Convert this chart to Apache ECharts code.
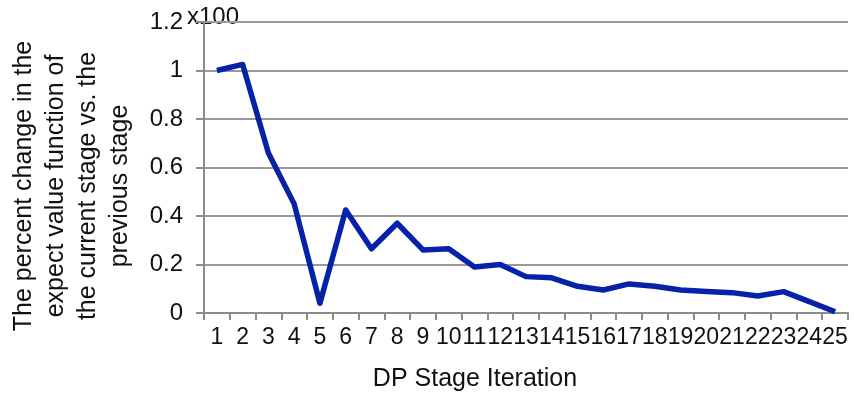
<!DOCTYPE html>
<html>
<head>
<meta charset="utf-8">
<script src="https://cdn.jsdelivr.net/npm/echarts@6/dist/echarts.min.js"></script>
<style>
  html, body { margin: 0; padding: 0; background: #fff; }
  #chart { width: 854px; height: 394px; }
</style>
</head>
<body>
<div id="chart"></div>
<script>
// DP stage iterations 1..25
const stages = ['1','2','3','4','5','6','7','8','9','10','11','12','13','14','15','16','17','18','19','20','21','22','23','24','25'];
// Percent change of the expected value function (in units of x100)
const percentChange = [1.0, 1.025, 0.66, 0.45, 0.04, 0.425, 0.265, 0.37, 0.26, 0.265, 0.19, 0.2, 0.15, 0.145, 0.11, 0.095, 0.12, 0.11, 0.095, 0.089, 0.084, 0.07, 0.088, 0.047, 0.005];
// Value axis ticks
const yTicks = { min: 0, max: 1.2, interval: 0.2 };

const yTitle = 'The percent change in the\nexpect value function of\nthe current stage vs. the\nprevious stage';
const xTitle = 'DP Stage Iteration';
const scaleNote = 'x100';

const font = '"Liberation Sans", Arial, sans-serif';
const chart = echarts.init(document.getElementById('chart'), null, { renderer: 'canvas' });

chart.setOption({
  animation: false,
  backgroundColor: '#ffffff',
  grid: { left: 204, right: 6, top: 22, bottom: 81, containLabel: false },
  xAxis: {
    type: 'category',
    data: stages,
    boundaryGap: true,
    axisLine: { show: true, lineStyle: { color: '#8c8c8c', width: 2 } },
    axisTick: { show: true, alignWithLabel: false, length: 7, lineStyle: { color: '#8c8c8c', width: 2 } },
    axisLabel: { interval: 0, hideOverlap: false, color: '#111', fontSize: 23, fontFamily: font, margin: 13 },
    splitLine: { show: false }
  },
  yAxis: {
    type: 'value',
    min: yTicks.min,
    max: yTicks.max,
    interval: yTicks.interval,
    axisLine: { show: true, lineStyle: { color: '#8c8c8c', width: 2 } },
    axisTick: { show: true, length: 8, lineStyle: { color: '#8c8c8c', width: 2 } },
    axisLabel: {
      color: '#111', fontSize: 24, fontFamily: font, margin: 21,
      formatter: v => String(Math.round(v * 10) / 10)
    },
    splitLine: { show: true, lineStyle: { color: '#9a9a9a', width: 2 } }
  },
  graphic: [
    {
      type: 'text',
      x: 72, y: 186,
      rotation: Math.PI / 2,
      style: {
        text: yTitle,
        fill: '#111',
        font: '25px ' + font,
        lineHeight: 32,
        align: 'center',
        verticalAlign: 'middle'
      }
    },
    {
      type: 'text',
      x: 475, y: 379,
      style: {
        text: xTitle,
        fill: '#111',
        font: '25px ' + font,
        align: 'center',
        verticalAlign: 'middle'
      }
    },
    {
      type: 'text',
      x: 187, y: 17,
      style: {
        text: scaleNote,
        fill: '#111',
        font: '24px ' + font,
        align: 'left',
        verticalAlign: 'middle'
      }
    }
  ],
  series: [{
    type: 'line',
    data: percentChange,
    symbol: 'none',
    lineStyle: { color: '#0622a8', width: 5.5, join: 'round' },
    itemStyle: { color: '#0622a8' }
  }]
});
</script>
</body>
</html>
